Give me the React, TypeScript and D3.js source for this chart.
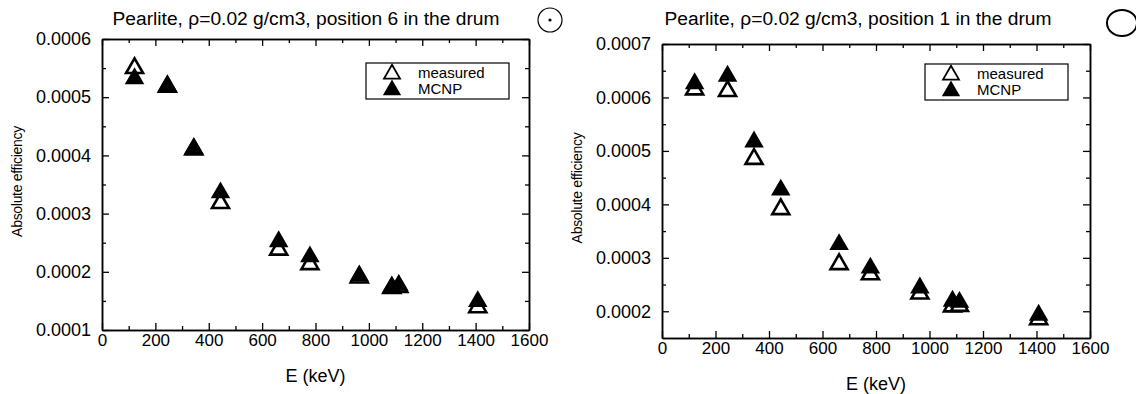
import React from 'react';
import * as d3 from 'd3';

// gamma lines (keV)
const energies = [122, 245, 344, 444, 662, 779, 964, 1086, 1112, 1408];

// position 6
const pos6Measured = [0.000550, 0.000518, 0.000410, 0.000318, 0.000238, 0.000213, 0.000190, 0.000172, 0.000174, 0.000139];
const pos6Mcnp = [0.000532, 0.000519, 0.000412, 0.000336, 0.000252, 0.000226, 0.000193, 0.000174, 0.000177, 0.000149];

// position 1
const pos1Measured = [0.000615, 0.000612, 0.000485, 0.000391, 0.000288, 0.000269, 0.000233, 0.000209, 0.000210, 0.000185];
const pos1Mcnp = [0.000626, 0.000640, 0.000517, 0.000427, 0.000325, 0.000281, 0.000244, 0.000219, 0.000217, 0.000193];

const xTicks = [0, 200, 400, 600, 800, 1000, 1200, 1400, 1600];
const xMinor = [100, 300, 500, 700, 900, 1100, 1300, 1500];
const pos6YTicks = [0.0001, 0.0002, 0.0003, 0.0004, 0.0005, 0.0006];
const pos6YMinor = [0.00015, 0.00025, 0.00035, 0.00045, 0.00055];
const pos1YTicks = [0.0002, 0.0003, 0.0004, 0.0005, 0.0006, 0.0007];
const pos1YMinor = [0.00025, 0.00035, 0.00045, 0.00055, 0.00065];

const legendLabels = ['measured', 'MCNP'];

const FONT = 'Liberation Sans, Arial, Helvetica, sans-serif';

const panels = [
    {
        title: 'Pearlite, \u03c1=0.02 g/cm3, position 6 in the drum',
        measured: pos6Measured, mcnp: pos6Mcnp,
        yDomain: [0.0001, 0.0006], yTicks: pos6YTicks, yMinor: pos6YMinor,
        x0: 102, x1: 529, yTop: 39, yBot: 330,
        titleX: 306, yLabelX: 18,
        legend: { x: 366, y: 63, w: 143, h: 36 },
        mark: { x: 550, y: 20, dot: true },
    },
    {
        title: 'Pearlite, \u03c1=0.02 g/cm3, position 1 in the drum',
        measured: pos1Measured, mcnp: pos1Mcnp,
        yDomain: [0.00015, 0.0007], yTicks: pos1YTicks, yMinor: pos1YMinor,
        x0: 662, x1: 1090, yTop: 44, yBot: 338,
        titleX: 858, yLabelX: 578,
        legend: { x: 925, y: 64, w: 143, h: 36 },
        mark: { x: 1122, y: 23, dot: false },
    },
];

export default function App() {
    const ref = React.useRef<SVGSVGElement>(null);

    React.useEffect(() => {
        if (!ref.current) return;
        const svg = d3.select(ref.current);
        svg.selectAll('*').remove();

        const tri = d3.symbol().type(d3.symbolTriangle);

        panels.forEach(p => {
            const g = svg.append('g');
            const x = d3.scaleLinear().domain([0, 1600]).range([p.x0, p.x1]);
            const y = d3.scaleLinear().domain(p.yDomain).range([p.yBot, p.yTop]);

            const styleAxis = (fs: number) => (sel: any) => {
                sel.select('.domain').attr('stroke', '#000').attr('stroke-width', 1.5);
                sel.selectAll('.tick line').attr('stroke', '#000').attr('stroke-width', 1.3);
                sel.selectAll('.tick text')
                    .attr('font-family', FONT).attr('font-size', fs).attr('fill', '#000');
            };
            const noLabel = () => '';

            // frame with inward ticks on all four sides
            g.append('g').attr('transform', `translate(0,${p.yBot})`)
                .call(d3.axisBottom(x).tickValues(xTicks).tickSizeInner(-7).tickSizeOuter(0).tickPadding(4)
                    .tickFormat(d3.format('d')))
                .call(styleAxis(17));
            g.append('g').attr('transform', `translate(0,${p.yBot})`)
                .call(d3.axisBottom(x).tickValues(xMinor).tickSizeInner(-4).tickSizeOuter(0).tickFormat(noLabel))
                .call(styleAxis(17));
            g.append('g').attr('transform', `translate(0,${p.yTop})`)
                .call(d3.axisTop(x).tickValues(xTicks).tickSizeInner(-7).tickSizeOuter(0).tickFormat(noLabel))
                .call(styleAxis(17));
            g.append('g').attr('transform', `translate(0,${p.yTop})`)
                .call(d3.axisTop(x).tickValues(xMinor).tickSizeInner(-4).tickSizeOuter(0).tickFormat(noLabel))
                .call(styleAxis(17));

            g.append('g').attr('transform', `translate(${p.x0},0)`)
                .call(d3.axisLeft(y).tickValues(p.yTicks).tickSizeInner(-7).tickSizeOuter(0).tickPadding(11)
                    .tickFormat(d3.format('.4f')))
                .call(styleAxis(18));
            g.append('g').attr('transform', `translate(${p.x0},0)`)
                .call(d3.axisLeft(y).tickValues(p.yMinor).tickSizeInner(-4).tickSizeOuter(0).tickFormat(noLabel))
                .call(styleAxis(18));
            g.append('g').attr('transform', `translate(${p.x1},0)`)
                .call(d3.axisRight(y).tickValues(p.yTicks).tickSizeInner(-7).tickSizeOuter(0).tickFormat(noLabel))
                .call(styleAxis(18));
            g.append('g').attr('transform', `translate(${p.x1},0)`)
                .call(d3.axisRight(y).tickValues(p.yMinor).tickSizeInner(-4).tickSizeOuter(0).tickFormat(noLabel))
                .call(styleAxis(18));

            // axis titles
            g.append('text')
                .attr('x', (p.x0 + p.x1) / 2).attr('y', p.yBot + 52)
                .attr('text-anchor', 'middle')
                .attr('font-family', FONT).attr('font-size', 18)
                .text('E (keV)');
            g.append('text')
                .attr('transform', `translate(${p.yLabelX},${(p.yTop + p.yBot) / 2 - 3}) rotate(-90)`)
                .attr('text-anchor', 'middle').attr('dominant-baseline', 'middle')
                .attr('font-family', FONT).attr('font-size', 14).attr('letter-spacing', -0.3)
                .text('Absolute efficiency');

            // title
            g.append('text')
                .attr('x', p.titleX).attr('y', 25)
                .attr('text-anchor', 'middle')
                .attr('font-family', FONT).attr('font-size', 19.2)
                .text(p.title);

            // measured first, MCNP on top
            g.selectAll('path.measured').data(energies).enter()
                .append('path').attr('class', 'measured')
                .attr('d', tri.size(125)() as string)
                .attr('transform', (d, i) => `translate(${x(d)},${y(p.measured[i])})`)
                .attr('fill', '#fff').attr('stroke', '#000').attr('stroke-width', 2.6);
            g.selectAll('path.mcnp').data(energies).enter()
                .append('path').attr('class', 'mcnp')
                .attr('d', tri.size(165)() as string)
                .attr('transform', (d, i) => `translate(${x(d)},${y(p.mcnp[i])})`)
                .attr('fill', '#000');

            // legend
            const L = p.legend;
            const lg = g.append('g');
            lg.append('rect')
                .attr('x', L.x).attr('y', L.y).attr('width', L.w).attr('height', L.h)
                .attr('fill', '#fff').attr('stroke', '#000').attr('stroke-width', 1.2);
            legendLabels.forEach((name, i) => {
                const cy = L.y + 10 + i * 16;
                lg.append('path')
                    .attr('d', tri.size(i === 0 ? 110 : 145)() as string)
                    .attr('transform', `translate(${L.x + 26},${cy + 1})`)
                    .attr('fill', i === 0 ? '#fff' : '#000')
                    .attr('stroke', i === 0 ? '#000' : 'none')
                    .attr('stroke-width', 1.8);
                lg.append('text')
                    .attr('x', L.x + 52).attr('y', cy + 5)
                    .attr('font-family', FONT).attr('font-size', 15)
                    .text(name);
            });

            // scanned position marker
            if (p.mark.dot) {
                g.append('circle').attr('cx', p.mark.x).attr('cy', p.mark.y).attr('r', 12)
                    .attr('fill', 'none').attr('stroke', '#000').attr('stroke-width', 1.2);
                g.append('circle').attr('cx', p.mark.x).attr('cy', p.mark.y).attr('r', 1.6).attr('fill', '#000');
            } else {
                g.append('ellipse').attr('cx', p.mark.x).attr('cy', p.mark.y).attr('rx', 15).attr('ry', 13)
                    .attr('fill', 'none').attr('stroke', '#000').attr('stroke-width', 2);
            }
        });
    }, []);

    return (
        <svg ref={ref} width={1136} height={394}
            style={{ position: 'absolute', left: 0, top: 0, background: '#fff' }} />
    );
}
